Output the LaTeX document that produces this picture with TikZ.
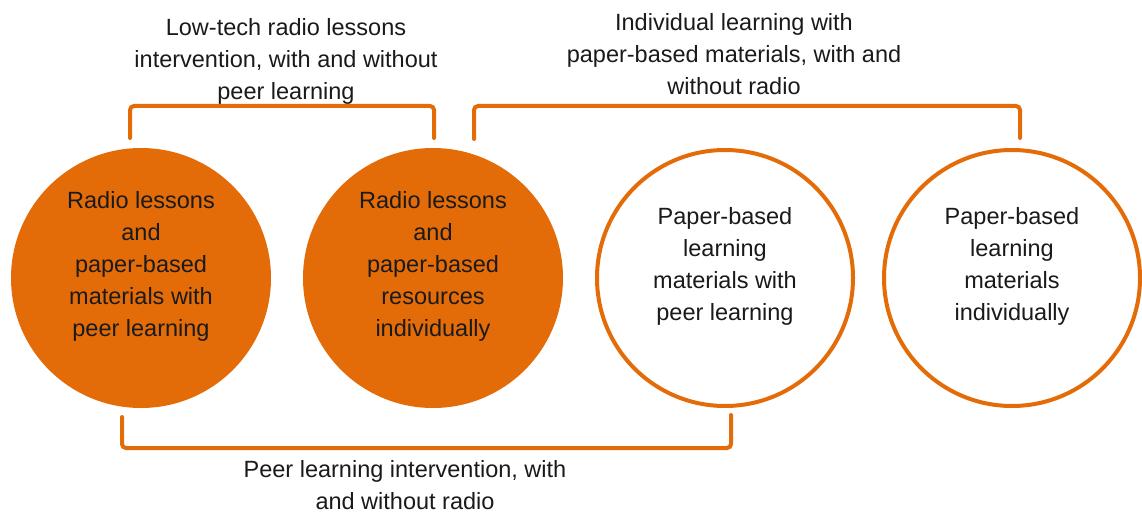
\documentclass[tikz,border=0pt]{standalone}
\usepackage{fontspec}
\setmainfont{Liberation Sans}
\definecolor{orng}{HTML}{E36C09}
\definecolor{txt}{HTML}{1A1A1A}
\begin{document}
\begin{tikzpicture}[x=1pt,y=1pt,
  every node/.style={font=\fontsize{23.5}{32}\selectfont, text=txt, align=center, inner sep=0pt},
  filled/.style={circle, fill=orng, draw=orng, line width=4pt, minimum size=256pt},
  open/.style={circle, fill=white, draw=orng, line width=4pt, minimum size=256pt},
  bracket/.style={draw=orng, line width=4pt, rounded corners=4pt, line cap=round}]
\useasboundingbox (0,0) rectangle (1142,515);
\node[filled] (c1) at (141,237) {};
\node[filled] (c2) at (433,237) {};
\node[open] (c3) at (725,237) {};
\node[open] (c4) at (1012,237) {};
\node (t1) at ([yshift=12pt]c1.center) {Radio lessons\\and\\paper-based\\materials with\\peer learning};
\node (t2) at ([yshift=12pt]c2.center) {Radio lessons\\and\\paper-based\\resources\\individually};
\node (t3) at ([yshift=12pt]c3.center) {Paper-based\\learning\\materials with\\peer learning};
\node (t4) at ([yshift=12pt]c4.center) {Paper-based\\learning\\materials\\individually};
% top-left bracket
\coordinate (a1) at (130,377);
\coordinate (a2) at (434,377);
\draw[bracket] (a1) -- (130,409) -- (434,409) -- (a2);
\node (l1) at (286,454) {Low-tech radio lessons\\intervention, with and without\\peer learning};
% top-right bracket
\coordinate (b1) at (474,376);
\coordinate (b2) at (1020,377);
\draw[bracket] (b1) -- (474,409) -- (1020,409) -- (b2);
\node (l2) at (734,461) {Individual learning with\\paper-based materials, with and\\without radio};
% bottom bracket
\coordinate (d1) at (122,98);
\coordinate (d2) at (731,100);
\draw[bracket] (d1) -- (122,67) -- (731,67) -- (d2);
\node (l3) at (405,30) {Peer learning intervention, with\\and without radio};
\end{tikzpicture}
\end{document}
